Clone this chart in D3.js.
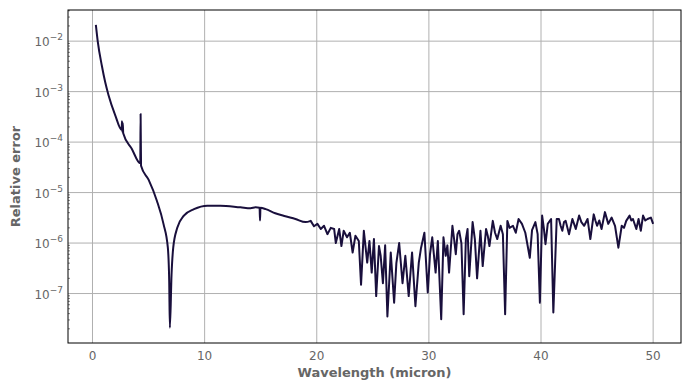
<!DOCTYPE html>
<html>
<head>
<meta charset="utf-8">
<script src="https://cdn.jsdelivr.net/npm/d3@7"></script>
<style>
  body { margin: 0; background: #fff; }
  text { font-family: "DejaVu Sans", sans-serif; }
</style>
</head>
<body>
<div id="chart"></div>
<script>
// Wavelength (micron) and relative error
const wavelength = [
  0.3, 0.47, 0.83, 1.13, 1.43, 2.03, 2.6, 2.63, 2.66, 2.7, 2.74, 3.5, 4.26, 4.29, 4.33,
  5.0, 5.74, 6.33, 6.72, 6.84, 6.9, 7.05, 7.2, 7.56, 8.15, 9.05, 10.24, 11.4, 13.2, 14.1,
  14.55, 14.9, 14.94, 14.98, 15.45, 16.3, 17.2, 18.1, 19.0,
  19.46, 19.75, 20.06, 20.36, 20.65, 20.95, 21.25, 21.55, 21.7, 22.0, 22.2, 22.4, 22.7,
  22.95, 23.2, 23.45, 23.75, 23.95, 24.2, 24.5, 24.7, 24.9, 25.1, 25.3, 25.55, 25.7,
  25.9, 26.1, 26.3, 26.6, 26.9, 27.1, 27.35, 27.65, 27.9, 28.2, 28.5, 28.8, 29.1, 29.3,
  29.6, 29.9, 30.1, 30.3, 30.6, 30.8, 31.1, 31.3, 31.5, 31.65, 31.8, 32.1, 32.25, 32.4,
  32.55, 32.7, 32.9, 33.1, 33.3, 33.45, 33.6, 33.9, 34.1, 34.3, 34.6, 34.8, 35.1, 35.25,
  35.4, 35.7, 35.9, 36.1, 36.4, 36.6, 36.8, 37.0, 37.2, 37.5, 37.75, 38.0, 38.3, 38.6,
  39.0, 39.2, 39.5, 39.7, 39.9, 40.1, 40.25, 40.4, 40.6, 40.9, 41.1, 41.4, 41.6, 41.75,
  41.9, 42.05, 42.2, 42.5, 42.8, 42.95, 43.1, 43.4, 43.6, 43.85, 44.15, 44.4, 44.7, 44.85,
  45.0, 45.2, 45.4, 45.7, 46.0, 46.3, 46.6, 46.9, 47.2, 47.4, 47.6, 47.9, 48.05, 48.2,
  48.5, 48.7, 48.9, 49.1, 49.3, 49.5, 49.8, 50.0
];
const relError = [
  2.1e-2, 9.8e-3, 3.3e-3, 1.55e-3, 8.5e-4, 3.4e-4, 1.75e-4, 2.6e-4, 1.6e-4, 2.4e-4, 1.5e-4, 7.4e-5, 3.8e-5, 3.6e-4, 3.4e-5,
  1.8e-5, 6.9e-6, 2.4e-6, 8.1e-7, 1.8e-7, 2.1e-8, 2.4e-7, 8.1e-7, 2.0e-6, 3.5e-6, 4.7e-6, 5.5e-6, 5.5e-6, 5.1e-6, 4.9e-6,
  5.1e-6, 5.0e-6, 2.8e-6, 5.0e-6, 4.7e-6, 3.9e-6, 3.4e-6, 3.0e-6, 2.6e-6,
  2.75e-6, 2.15e-6, 2.4e-6, 1.9e-6, 2.2e-6, 1.5e-6, 2.0e-6, 1.9e-6, 1.0e-6, 1.9e-6, 8.7e-7, 1.75e-6, 1.3e-6,
  1.6e-6, 6.5e-7, 1.4e-6, 1.1e-6, 1.5e-7, 1.75e-6, 4.1e-7, 1.1e-6, 2.6e-7, 1.2e-6, 8.9e-8, 8.7e-7, 5.6e-7,
  1.6e-7, 9.0e-7, 3.5e-8, 6.5e-7, 6.6e-8, 4.0e-7, 1.0e-6, 1.6e-7, 5.6e-7, 8.9e-8, 6.5e-7, 5.6e-8, 4.1e-7, 8.0e-7,
  1.6e-6, 1.05e-7, 6.0e-7, 1.3e-6, 2.6e-7, 1.1e-6, 3.1e-8, 1.3e-6, 5.6e-7, 9.0e-7, 2.6e-7, 2.2e-6, 1.2e-6, 6.0e-7,
  1.5e-6, 1.75e-6, 1.0e-6, 3.9e-8, 1.2e-6, 1.9e-6, 2.2e-7, 2.6e-6, 1.2e-6, 2.0e-7, 1.75e-6, 3.5e-7, 1.9e-6, 1.4e-6,
  8.7e-7, 2.75e-6, 1.6e-6, 1.2e-6, 2.2e-6, 1.5e-6, 3.9e-8, 2.75e-6, 2.0e-6, 2.2e-6, 1.6e-6, 3.0e-6, 2.4e-6, 1.6e-6,
  5.1e-7, 1.8e-6, 2.6e-6, 1.5e-6, 6.6e-8, 3.5e-6, 2.0e-6, 9.5e-7, 2.4e-6, 3.0e-6, 4.2e-8, 3.0e-6, 3.0e-6, 2.2e-6,
  1.75e-6, 2.6e-6, 2.75e-6, 1.5e-6, 3.0e-6, 2.4e-6, 1.9e-6, 3.5e-6, 2.6e-6, 2.2e-6, 3.0e-6, 1.2e-6, 3.7e-6, 2.8e-6,
  2.2e-6, 2.8e-6, 1.9e-6, 4.1e-6, 2.4e-6, 3.2e-6, 2.2e-6, 8.1e-7, 2.2e-6, 2.0e-6, 2.75e-6, 3.5e-6, 2.8e-6, 3.0e-6,
  1.9e-6, 3.0e-6, 1.75e-6, 3.5e-6, 2.8e-6, 3.0e-6, 3.2e-6, 2.4e-6
];
const smoothUntil = 19.46; // below this wavelength the curve is smooth
const xTicks = [0, 10, 20, 30, 40, 50];
const yExponents = [-7, -6, -5, -4, -3, -2];

const W = 690, H = 390;
const margin = { top: 10, right: 9, bottom: 47, left: 68 };

const svg = d3.select("#chart").append("svg")
  .attr("width", W)
  .attr("height", H);

const x = d3.scaleLinear()
  .domain([-2.185, 52.485])
  .range([margin.left, W - margin.right]);

const y = d3.scaleLog()
  .domain([Math.pow(10, -7.98), Math.pow(10, -1.383)])
  .range([H - margin.bottom, margin.top]);

const pLeft = margin.left, pRight = W - margin.right;
const pTop = margin.top, pBottom = H - margin.bottom;

// grid
svg.append("g").selectAll("line")
  .data(xTicks).enter().append("line")
  .attr("x1", d => x(d)).attr("x2", d => x(d))
  .attr("y1", pTop).attr("y2", pBottom)
  .attr("stroke", "#b0b0b0").attr("stroke-width", 1);

svg.append("g").selectAll("line")
  .data(yExponents).enter().append("line")
  .attr("x1", pLeft).attr("x2", pRight)
  .attr("y1", d => y(Math.pow(10, d))).attr("y2", d => y(Math.pow(10, d)))
  .attr("stroke", "#b0b0b0").attr("stroke-width", 1);

// minor ticks on y (inside)
const minor = [];
for (let e = -8; e <= -2; e++) {
  for (let m = 2; m <= 9; m++) {
    const v = m * Math.pow(10, e);
    if (v >= y.domain()[0] && v <= y.domain()[1]) minor.push(v);
  }
}
svg.append("g").selectAll("line")
  .data(minor).enter().append("line")
  .attr("x1", pLeft).attr("x2", pLeft + 2)
  .attr("y1", d => y(d)).attr("y2", d => y(d))
  .attr("stroke", "#333").attr("stroke-width", 0.6);

// data line: smooth part with monotone curve, noisy part straight segments
const pts = wavelength.map((w, i) => ({ w: w, v: relError[i] }));
const smoothPts = pts.filter(d => d.w <= smoothUntil);
const noisyPts = pts.filter(d => d.w >= smoothUntil);

const smoothLine = d3.line().x(d => x(d.w)).y(d => y(d.v)).curve(d3.curveMonotoneX);
const noisyLine = d3.line().x(d => x(d.w)).y(d => y(d.v));

svg.append("path")
  .attr("d", smoothLine(smoothPts) + noisyLine(noisyPts).replace(/^M/, "L"))
  .attr("fill", "none")
  .attr("stroke", "#190f3c")
  .attr("stroke-width", 2)
  .attr("stroke-linejoin", "round");

// frame
svg.append("rect")
  .attr("x", pLeft).attr("y", pTop)
  .attr("width", pRight - pLeft).attr("height", pBottom - pTop)
  .attr("fill", "none").attr("stroke", "#000").attr("stroke-width", 1);

// x tick labels
svg.append("g").selectAll("text")
  .data(xTicks).enter().append("text")
  .attr("x", d => x(d))
  .attr("y", pBottom + 17)
  .attr("text-anchor", "middle")
  .attr("font-size", 12)
  .attr("fill", "#666")
  .text(d => d);

// y tick labels with superscripts
const yl = svg.append("g").selectAll("text")
  .data(yExponents).enter().append("text")
  .attr("x", pLeft - 5)
  .attr("y", d => y(Math.pow(10, d)) + 5)
  .attr("text-anchor", "end")
  .attr("font-size", 12)
  .attr("fill", "#666");
yl.append("tspan").text("10");
yl.append("tspan")
  .attr("dy", -6)
  .attr("font-size", 9)
  .text(d => "\u2212" + Math.abs(d));

// axis titles
svg.append("text")
  .attr("x", (pLeft + pRight) / 2)
  .attr("y", pBottom + 34)
  .attr("text-anchor", "middle")
  .attr("font-size", 13)
  .attr("font-weight", "bold")
  .attr("fill", "#666")
  .text("Wavelength (micron)");

svg.append("text")
  .attr("transform", "translate(20," + ((pTop + pBottom) / 2) + ") rotate(-90)")
  .attr("text-anchor", "middle")
  .attr("font-size", 13)
  .attr("font-weight", "bold")
  .attr("fill", "#666")
  .text("Relative error");
</script>
</body>
</html>
